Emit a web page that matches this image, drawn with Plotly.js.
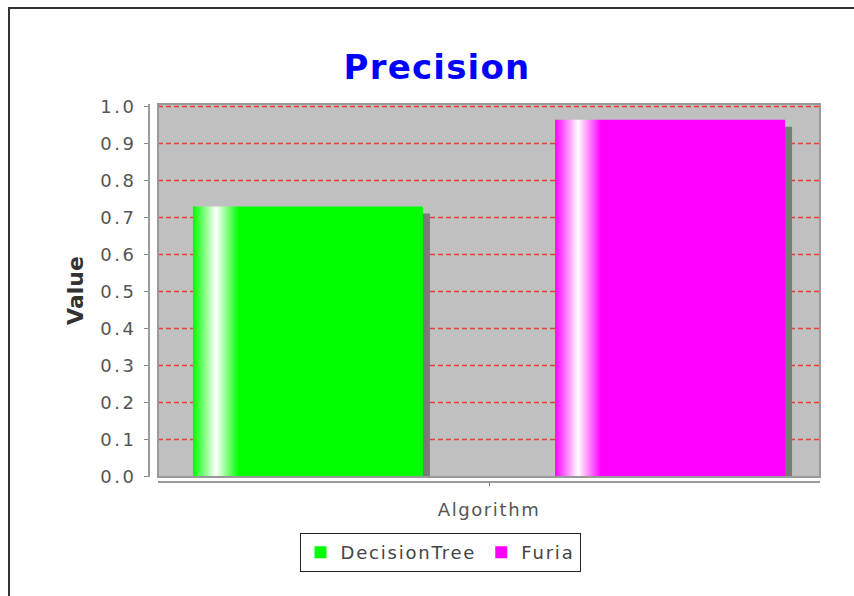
<!DOCTYPE html>
<html>
<head>
<meta charset="utf-8">
<script src="https://cdn.plot.ly/plotly-3.0.1.min.js"></script>
<style>
  html, body { margin: 0; padding: 0; background: #fff; }
  #wrap { position: relative; width: 854px; height: 596px; overflow: hidden; }
  #chart { width: 854px; height: 596px; }
  #frame { position: absolute; left: 8px; top: 7px; width: 900px; height: 700px;
           border-left: 2px solid #333; border-top: 2px solid #333; pointer-events: none; }
  text.gtitle { letter-spacing: 1.2px; }
  .ytick text { letter-spacing: 2.5px; }
  .xtick text { letter-spacing: 1.6px; }
  text.legendtext { letter-spacing: 1.8px; }
  .gridlayer path { shape-rendering: geometricPrecision !important; }
  .barlayer .trace:nth-child(1) .point path { fill: url(#gradDT) !important; }
  .barlayer .trace:nth-child(2) .point path { fill: url(#gradFU) !important; }
  .barlayer .point path { filter: drop-shadow(7px 7px 0 #7a7a7a); }
</style>
</head>
<body>
<svg width="0" height="0" style="position:absolute">
  <defs>
    <linearGradient id="gradDT" x1="0" y1="0" x2="1" y2="0">
      <stop offset="0" stop-color="#00ff00"/>
      <stop offset="0.1" stop-color="#ffffff"/>
      <stop offset="0.2" stop-color="#00ff00"/>
      <stop offset="1" stop-color="#00ff00"/>
    </linearGradient>
    <linearGradient id="gradFU" x1="0" y1="0" x2="1" y2="0">
      <stop offset="0" stop-color="#ff00ff"/>
      <stop offset="0.1" stop-color="#ffffff"/>
      <stop offset="0.2" stop-color="#ff00ff"/>
      <stop offset="1" stop-color="#ff00ff"/>
    </linearGradient>
  </defs>
</svg>
<div id="wrap">
  <div id="chart"></div>
  <div id="frame"></div>
</div>
<script>
// ---- data ----
const categories = ['Algorithm'];
const seriesNames = ['DecisionTree', 'Furia'];
const decisionTreeValues = [0.73];
const furiaValues = [0.964];
const yTickValues = [0, 0.1, 0.2, 0.3, 0.4, 0.5, 0.6, 0.7, 0.8, 0.9, 1.0];

const seriesColors = ['#00ff00', '#ff00ff'];

const traces = [
  { type: 'bar', name: seriesNames[0], x: categories, y: decisionTreeValues,
    marker: { color: seriesColors[0], line: { width: 0 } }, hoverinfo: 'none' },
  { type: 'bar', name: seriesNames[1], x: categories, y: furiaValues,
    marker: { color: seriesColors[1], line: { width: 0 } }, hoverinfo: 'none' }
];

// plot area: x 158..820, y 104..477; axis lines at x=149, y=482
const L = 149, R = 854 - 820, T = 104, B = 596 - 482;
const pw = 854 - L - R, ph = 596 - T - B;
const plotH = 477 - T;          // 373 px
const unitPx = 370;             // pixels per 1.0
const halfPx = 0.5 / unitPx;

const layout = {
  width: 854, height: 596,
  margin: { l: L, r: R, t: T, b: B, pad: 0 },
  paper_bgcolor: '#ffffff',
  plot_bgcolor: '#c0c0c0',
  font: { family: 'DejaVu Sans', color: '#555' },
  title: {
    text: 'Precision',
    font: { family: 'DejaVu Sans', size: 34, color: '#0000ff', weight: 'bold' },
    x: 437 / 854, xref: 'container', xanchor: 'center',
    y: 1 - 67 / 596, yref: 'container', yanchor: 'middle'
  },
  barmode: 'group',
  bargap: 0,
  bargroupgap: 0.365,
  xaxis: {
    type: 'category',
    domain: [(158 - L) / pw, 1],
    anchor: 'free', position: 0,
    range: [-0.457, 0.457],
    showgrid: false, zeroline: false,
    showline: true, linecolor: '#9a9a9a', linewidth: 2,
    ticks: 'outside', ticklen: 3, tickwidth: 1, tickcolor: '#777',
    ticklabelstandoff: 8,
    tickfont: { family: 'DejaVu Sans', size: 18, color: '#555' },
    fixedrange: true
  },
  yaxis: {
    domain: [(482 - 477) / ph, 1],
    anchor: 'free', position: 0,
    range: [-halfPx, plotH / unitPx - halfPx],
    tickvals: yTickValues,
    tickformat: '.1f',
    showgrid: true, gridcolor: '#f03a3a', gridwidth: 1.3, griddash: '5px,3px',
    zeroline: false,
    showline: true, linecolor: '#9a9a9a', linewidth: 2,
    ticks: 'outside', ticklen: 4, tickwidth: 1, tickcolor: '#888',
    ticklabelstandoff: 4,
    tickfont: { family: 'DejaVu Sans', size: 18, color: '#555' },
    title: { text: 'Value', font: { family: 'DejaVu Sans', size: 22, color: '#333', weight: 'bold' }, standoff: 10 },
    fixedrange: true
  },
  showlegend: true,
  legend: {
    orientation: 'h',
    x: (440 - L) / pw, xanchor: 'center',
    y: (482 - 533) / ph, yanchor: 'top',
    bgcolor: '#ffffff', bordercolor: '#222', borderwidth: 1,
    font: { family: 'DejaVu Sans', size: 18, color: '#444' },
    itemwidth: 30, tracegroupgap: 0
  },
  shapes: [
    { type: 'rect', xref: 'x domain', yref: 'y domain', x0: 0, x1: 1, y0: 0, y1: 1,
      line: { color: '#9a9a9a', width: 2 }, fillcolor: 'rgba(0,0,0,0)', layer: 'above' }
  ]
};

Plotly.newPlot('chart', traces, layout, { staticPlot: true, displayModeBar: false });
</script>
</body>
</html>
